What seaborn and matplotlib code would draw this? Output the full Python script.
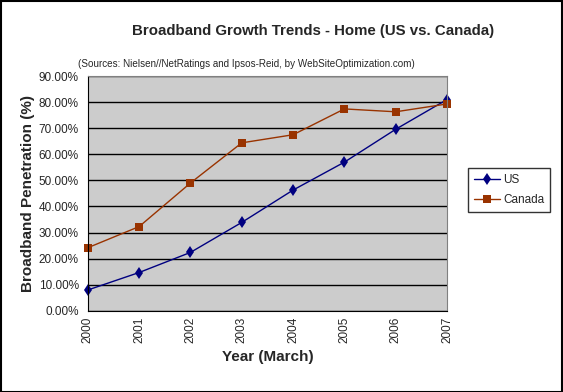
import pandas as pd
import matplotlib
matplotlib.use('Agg')
import matplotlib.pyplot as plt
import seaborn as sns
from matplotlib.ticker import FuncFormatter

# data
years = [2000, 2001, 2002, 2003, 2004, 2005, 2006, 2007]
us = [8.0, 14.7, 22.4, 33.9, 46.3, 57.0, 69.6, 81.0]
canada = [24.2, 32.3, 49.0, 64.4, 67.5, 77.4, 76.3, 79.3]

df = pd.DataFrame({'year': years * 2,
                   'value': us + canada,
                   'country': ['US'] * len(years) + ['Canada'] * len(years)})

sns.set_style('white')
plt.rcParams['font.family'] = ['Liberation Sans', 'DejaVu Sans']

fig = plt.figure(figsize=(5.63, 3.92), dpi=100)
ax = fig.add_axes([0.156, 0.207, 0.638, 0.599])
ax.set_facecolor('#cccccc')

sns.lineplot(data=df, x='year', y='value', hue='country', style='country',
             palette={'US': '#000080', 'Canada': '#993300'},
             markers={'US': 'd', 'Canada': 's'}, dashes=False,
             markersize=6, linewidth=1, markeredgewidth=0, ax=ax)
for ln in ax.lines:
    ln.set_clip_on(False)

ax.set_xlim(2000, 2007)
ax.set_ylim(0, 90)
ax.set_yticks(range(0, 91, 10))
ax.yaxis.set_major_formatter(FuncFormatter(lambda v, p: f'{v:.2f}%'))
ax.set_xticks(years)
ax.set_xticklabels([str(y) for y in years], rotation=90)
ax.tick_params(axis='both', labelsize=8.5, length=3, direction='out', color='black')
ax.tick_params(axis='x', pad=1)
ax.grid(axis='y', color='black', linewidth=1)
ax.set_axisbelow(True)
for s in ax.spines.values():
    s.set_color('#808080')
ax.spines['left'].set_color('black')
ax.spines['bottom'].set_color('black')

ax.set_xlabel('Year (March)', fontsize=11, fontweight='bold', labelpad=5)
ax.set_ylabel('Broadband Penetration (%)', fontsize=11, fontweight='bold', labelpad=3)

fig.text(0.556, 0.922, 'Broadband Growth Trends - Home (US vs. Canada)',
         ha='center', va='center', fontsize=10.8, fontweight='bold')
fig.text(0.437, 0.837, '(Sources: Nielsen//NetRatings and Ipsos-Reid, by WebSiteOptimization.com)',
         ha='center', va='center', fontsize=7.1)

h, l = ax.get_legend_handles_labels()
leg = fig.legend(h, l, loc='upper left', bbox_to_anchor=(0.831, 0.571),
                 borderaxespad=0, fontsize=8.5, frameon=True, fancybox=False,
                 handlelength=2.2, borderpad=0.5, labelspacing=0.7, handletextpad=0.3)
leg.get_frame().set_edgecolor('black')
leg.get_frame().set_linewidth(1)
if ax.get_legend():
    ax.get_legend().remove()

# outer border
fig.patches.append(plt.Rectangle((0.001, 0.001), 0.997, 0.997, transform=fig.transFigure,
                                 fill=False, edgecolor='black', linewidth=1.5))

fig.savefig('out.png', dpi=100)
